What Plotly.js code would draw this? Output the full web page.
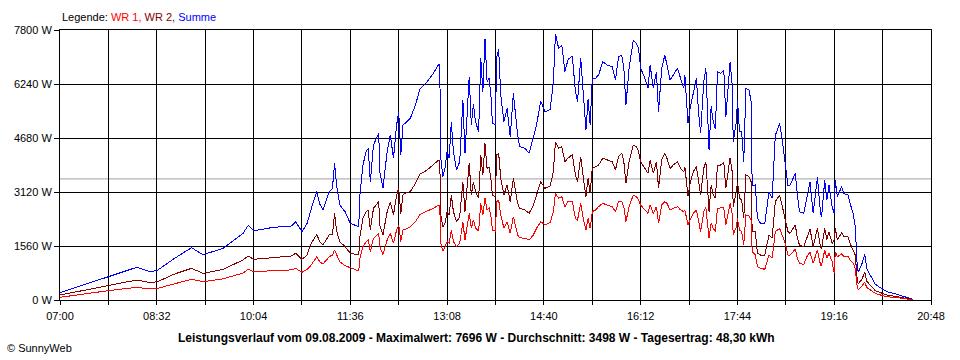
<!DOCTYPE html>
<html>
<head>
<meta charset="utf-8">
<script src="https://cdn.plot.ly/plotly-3.0.1.min.js"></script>
<style>
  html, body { margin: 0; padding: 0; background: #fff; }
  #chart { width: 960px; height: 360px; }
  .scatterlayer path.js-line { shape-rendering: crispEdges; }
</style>
</head>
<body>
<div id="chart"></div>
<script>
// ---- data ----
const day = '2009-08-09';
const times = ['07:00','07:22','07:46','08:13','08:26','08:33','08:48','09:05','09:16','09:35','09:54','09:59','10:04','10:23','10:40','10:44','10:50','10:55','10:58','11:04','11:07','11:10','11:16','11:19','11:21','11:23','11:26','11:31','11:36','11:41','11:44','11:45','11:47','11:48','11:51','11:53','11:55','11:58','12:03','12:04','12:07','12:11','12:14','12:17','12:20','12:22','12:24','12:26','12:28','12:33','12:38','12:42','12:49','12:55','13:00','13:01','13:02','13:04','13:06','13:08','13:10','13:12','13:14','13:17','13:20','13:23','13:25','13:29','13:31','13:33','13:35','13:38','13:40','13:42','13:44','13:46','13:48','13:50','13:51','13:54','13:55','13:57','13:59','14:02','14:05','14:08','14:11','14:15','14:17','14:22','14:26','14:30','14:33','14:37','14:41','14:46','14:49','14:51','14:54','14:57','15:00','15:03','15:07','15:10','15:12','15:15','15:18','15:20','15:22','15:24','15:26','15:29','15:32','15:36','15:40','15:45','15:48','15:51','15:54','15:56','15:58','16:01','16:05','16:08','16:10','16:12','16:16','16:19','16:21','16:24','16:27','16:29','16:32','16:35','16:37','16:40','16:43','16:47','16:50','16:53','16:54','16:57','16:59','17:02','17:05','17:07','17:09','17:12','17:14','17:17','17:19','17:21','17:23','17:25','17:28','17:31','17:33','17:37','17:39','17:40','17:43','17:44','17:46','17:48','17:50','17:52','17:55','17:57','17:58','18:01','18:03','18:06','18:10','18:14','18:17','18:20','18:24','18:26','18:29','18:32','18:34','18:37','18:39','18:41','18:43','18:47','18:50','18:53','18:56','19:00','19:03','19:04','19:07','19:09','19:11','19:14','19:16','19:17','19:19','19:23','19:25','19:29','19:31','19:34','19:36','19:38','19:39','19:42','19:45','19:47','19:50','19:55','20:00','20:06','20:16','20:25','20:31'];

const wr1 = [77,173,270,366,318,337,462,600,530,610,780,886,819,847,870,915,800,886,980,1240,1107,1040,1250,1300,1445,1310,1107,992,934,867,838,1200,1400,1541,1685,1733,1400,1782,1926,1540,1319,1734,1926,1640,2023,2167,1690,2023,2030,2118,2263,2460,2571,2649,2745,2740,1637,1416,1541,1685,1637,2022,1685,1541,1637,2263,1733,2500,2070,2311,2070,2000,2793,2456,2938,2600,2649,2359,2022,1993,2841,2889,2456,2070,2263,1926,2408,1878,1801,1782,1733,1878,2070,2263,2167,2240,2551,3082,2938,2985,2696,2850,2850,2359,2311,2793,2263,2022,2359,2070,2551,2600,2696,2793,2745,2696,2551,2841,2841,2696,2263,2696,3033,2985,2889,2745,2600,2504,2745,2504,2696,2215,2745,2841,2793,2600,2649,2696,2600,2551,2600,2167,2311,2504,2600,2263,1974,2551,2667,1782,2215,2070,1974,2649,2649,2667,2167,2793,2504,1878,2118,2359,2022,1974,1589,2456,2427,2311,1396,1300,963,915,886,1300,1204,1974,2070,1926,1685,1300,1300,1396,1473,1204,1059,1030,1252,1380,1059,1445,1011,1011,1445,1204,1348,1107,771,1396,1252,1329,1271,1271,1156,1059,915,337,308,385,520,360,289,193,144,96,67,29,5];

const wr2 = [144,270,404,578,501,530,741,915,771,886,1156,1271,1175,1233,1271,1348,1175,1300,1589,1890,1685,1589,1880,1897,2504,1990,1685,1541,1348,1319,1300,1800,2167,2359,2551,2600,2022,2649,2841,2167,1878,2551,2841,2456,3033,3226,2500,3033,3082,3130,3370,3630,3756,3900,4044,4030,2456,2118,2215,2551,2456,3033,2551,2263,2408,3418,2551,3950,3033,3418,3130,2938,4189,3611,4527,3804,3852,3418,3033,2985,4189,4238,3516,3033,3322,2841,3516,2793,2649,2600,2504,2745,3033,3418,3226,3300,3707,4574,4382,4429,3996,4100,4200,3611,3418,4141,3418,2985,3516,3082,3804,3852,3900,4094,4044,3996,3756,4141,4238,3996,3370,3996,4478,4429,4285,3996,3804,3660,4044,3660,3996,3226,4044,4238,4094,3804,3900,3996,3800,3707,3852,3000,3370,3707,3852,3418,3033,3804,3996,2551,3322,3033,2938,3900,3900,3977,3226,4113,3707,2696,3130,3418,2938,2889,2359,3611,3562,3418,1974,1974,1348,1300,1300,1878,1782,2841,3033,2793,2408,1974,1926,2070,2167,1782,1589,1541,1782,2050,1541,2070,1541,1493,2070,1733,1974,1637,1733,2070,1733,1946,1830,1830,1637,1445,1300,530,481,578,800,540,433,270,212,144,96,48,10];

const summe = [210,433,680,945,815,867,1184,1512,1309,1493,1926,2160,2000,2100,2138,2263,1974,2215,2551,3130,2770,2600,3130,3226,3949,3300,2745,2551,2215,2167,2118,3000,3516,3900,4285,4382,3418,4478,4816,3707,3226,4285,4767,4094,5056,5440,4189,5056,5104,5249,5634,6090,6307,6548,6808,6789,4094,3562,3804,4285,4094,5151,4285,3756,3996,5778,4238,6451,5056,5650,5151,4862,6982,6018,7550,6307,6403,5778,5104,5056,6982,7250,5923,5151,5538,4718,5971,4767,4429,4382,4238,4718,5056,5750,5440,5500,6307,7696,7271,7367,6600,6950,7050,6018,5730,6982,5634,4911,5800,5056,6400,6403,6500,6885,6789,6740,6356,7030,7078,6693,5634,6693,7511,7415,7271,6693,6403,6115,6789,6115,6596,5440,6693,7078,6789,6356,6500,6693,6400,6115,6500,5100,5538,6018,6403,5440,4816,6307,6693,4333,5600,5150,4950,6596,6548,6644,5300,6885,6211,4574,5151,5778,4862,4862,3996,6115,6067,5730,3300,3322,2359,2215,2215,3130,2938,4750,5104,4767,4044,3300,3322,3516,3660,3033,2551,2504,2938,3400,2504,3544,2504,2408,3467,2889,3322,2696,2504,3467,2985,3274,3082,3033,2793,2504,2118,900,819,1011,1320,900,730,460,350,241,160,77,19];

const average = 3498;
const tickTimes = ['07:00','07:46','08:32','09:18','10:04','10:50','11:36','12:22','13:08','13:54','14:40','15:26','16:12','16:58','17:44','18:30','19:16','20:02','20:48'];
const tickLabels = ['07:00','','08:32','','10:04','','11:36','','13:08','','14:40','','16:12','','17:44','','19:16','','20:48'];
const yTicks = [0,1560,3120,4680,6240,7800];
const yTickLabels = ['0 W','1560 W','3120 W','4680 W','6240 W','7800 W'];
const seriesNames = ['WR 1','WR 2','Summe'];
const seriesColors = ['#ff0000','#800000','#0000ff'];
const titleText = 'Leistungsverlauf vom 09.08.2009 - Maximalwert: 7696 W - Durchschnitt: 3498 W - Tagesertrag: 48,30 kWh';
const copyright = '© SunnyWeb';

// ---- build ----
const toDate = t => day + ' ' + t;
const xs = times.map(toDate);
const series = [wr1, wr2, summe];
const order = [2, 1, 0];
const traces = order.map(i => ({
  type: 'scatter', mode: 'lines', x: xs, y: series[i], name: seriesNames[i],
  line: {color: seriesColors[i], width: 1}, hoverinfo: 'skip'
}));

const legendText = 'Legende: ' + seriesNames.map((n, i) =>
  '<span style="color:' + seriesColors[i] + '">' + n + (i < seriesNames.length - 1 ? ',' : '') + '</span>').join(' ');

const font = 'Arial, "Liberation Sans", sans-serif';
const layout = {
  width: 960, height: 360,
  margin: {l: 60, r: 29, t: 30, b: 60},
  paper_bgcolor: '#fff', plot_bgcolor: '#fff',
  showlegend: false,
  font: {family: font, size: 11, color: '#000'},
  xaxis: {
    type: 'date',
    range: [toDate(tickTimes[0]), toDate(tickTimes[tickTimes.length - 1])],
    tickmode: 'array', tickvals: tickTimes.map(toDate), ticktext: tickLabels,
    showgrid: true, gridcolor: '#000', gridwidth: 1,
    showline: true, linecolor: '#000', linewidth: 1, mirror: true,
    ticks: 'outside', ticklen: 4, tickcolor: '#000', tickwidth: 1,
    ticklabelstandoff: 2,
    zeroline: false, fixedrange: true,
    tickfont: {family: font, size: 11, color: '#000'}
  },
  yaxis: {
    range: [0, 7800],
    tickmode: 'array', tickvals: yTicks, ticktext: yTickLabels,
    showgrid: true, gridcolor: '#000', gridwidth: 1,
    showline: true, linecolor: '#000', linewidth: 1, mirror: true,
    ticks: 'outside', ticklen: 5, tickcolor: '#000', tickwidth: 1,
    zeroline: false, fixedrange: true,
    tickfont: {family: font, size: 11, color: '#000'}
  },
  shapes: [{
    type: 'line', xref: 'paper', yref: 'y', x0: 0, x1: 1, y0: average, y1: average,
    line: {color: '#a0a0a0', width: 1}, layer: 'between'
  }],
  annotations: [
    {xref: 'paper', yref: 'paper', x: 0, y: 1, xanchor: 'left', yanchor: 'bottom', yshift: 5,
     text: legendText, showarrow: false, font: {family: font, size: 11, color: '#000'}},
    {xref: 'paper', yref: 'paper', x: (176 - 60) / 871, y: -0.14, xanchor: 'left', yanchor: 'middle',
     text: '<b>' + titleText + '</b>', showarrow: false,
     font: {family: '"Liberation Sans Narrow", "Arial Narrow", Arial, sans-serif', size: 12, color: '#000'}},
    {xref: 'paper', yref: 'paper', x: -55 / 871, y: -0.178, xanchor: 'left', yanchor: 'middle',
     text: copyright, showarrow: false, font: {family: font, size: 11, color: '#000'}}
  ]
};

Plotly.newPlot('chart', traces, layout, {displayModeBar: false, staticPlot: true});
</script>
</body>
</html>
